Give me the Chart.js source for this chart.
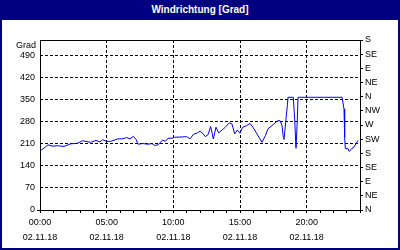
<!DOCTYPE html>
<html lang="de">
<head>
    <meta charset="UTF-8">
    <title>Windrichtung [Grad]</title>
    <script src="https://cdn.jsdelivr.net/npm/chart.js@4"></script>
    <style>
        body {
            margin: 0;
            padding: 0;
            background: #fff;
        }
        .frame {
            position: absolute;
            left: 0;
            top: 0;
            width: 400px;
            height: 250px;
            box-sizing: border-box;
            border: 2px solid #000080;
            background: #fff;
        }
        .title {
            position: absolute;
            left: 0;
            top: 0;
            width: 400px;
            height: 20px;
            background: #000080;
            color: #fff;
            font: bold 10px "Liberation Sans", Arial, sans-serif;
            line-height: 19px;
            text-align: center;
        }
        #windChart {
            position: absolute;
            left: 0;
            top: 0;
        }
    </style>
</head>
<body>
    <div class="frame"></div>
    <div class="title">Windrichtung [Grad]</div>
    <canvas id="windChart" width="400" height="250"></canvas>

    <script>
        // hours since 00:00 on 02.11.18
        const hours = [
            0, 0.4, 0.6, 0.9, 1.35, 1.8, 2.3, 2.8, 3.2, 3.8, 4.2, 4.5, 4.7, 5.0, 5.3, 5.85,
            6.15, 6.5, 6.75, 7.0, 7.2, 7.35, 7.7, 8.1, 8.4, 8.6, 8.85, 9.2, 9.4, 9.6, 9.9,
            10.1, 10.65, 11.0, 11.25, 11.5, 11.8, 12.0, 12.2, 12.4, 12.6, 12.8, 13.0, 13.2,
            13.4, 13.9, 14.2, 14.4, 14.6, 14.8, 15.0, 15.2, 15.5, 15.75, 16.0, 16.65, 16.9,
            17.1, 17.4, 17.8, 18.0, 18.15, 18.25, 18.3, 18.45, 18.55, 18.6, 19.0, 19.1, 19.2,
            19.3, 19.35, 22.65, 22.8, 22.85, 22.9, 23.1, 23.2, 23.4, 23.55, 23.85
        ];
        // wind direction in degrees
        const direction = [
            187, 200, 207, 203, 204, 202, 210, 212, 220, 215, 221, 216, 223, 218, 218, 226,
            226, 230, 226, 234, 224, 209, 211, 209, 211, 205, 207, 222, 218, 228, 228,
            231, 232, 233, 226, 240, 245, 250, 244, 233, 239, 265, 226, 263,
            245, 263, 277, 273, 242, 254, 244, 263, 268, 275, 261, 215, 236,
            258, 268, 283, 284, 268, 231, 224, 289, 331, 358, 358, 289, 196,
            289, 358, 358, 321, 231, 195, 195, 186, 196, 200, 221
        ];

        const leftTicks = [0, 70, 140, 210, 280, 350, 420, 490];
        const compassTicks = [0, 45, 90, 135, 180, 225, 270, 315, 360, 405, 450, 495, 540];
        const compassLabels = ['N', 'NE', 'E', 'SE', 'S', 'SW', 'W', 'NW', 'N', 'NE', 'E', 'SE', 'S'];
        const hourTicks = [0, 1, 2, 3, 4, 5, 6, 7, 8, 9, 10, 11, 12, 13, 14, 15, 16, 17, 18, 19, 20, 21, 22, 23, 24];
        const timeLabels = {0: '00:00', 5: '05:00', 10: '10:00', 15: '15:00', 20: '20:00'};
        const dateLabel = '02.11.18';

        const FONT = { family: '"Liberation Sans", Arial, sans-serif', size: 9 };
        const DASH = [3, 2];

        // frame around the plot area and the unit label
        const framePlugin = {
            id: 'framePlugin',
            afterDraw(chart) {
                const { ctx, chartArea: a } = chart;
                ctx.save();
                ctx.strokeStyle = '#000';
                ctx.lineWidth = 1;
                ctx.setLineDash([]);
                ctx.strokeRect(a.left + 0.5, a.top + 0.5, a.right - a.left, a.bottom - a.top);
                ctx.fillStyle = '#000';
                ctx.font = '9px "Liberation Sans", Arial, sans-serif';
                ctx.textAlign = 'right';
                ctx.textBaseline = 'middle';
                ctx.fillText('Grad', 36, 46);
                ctx.restore();
            }
        };

        const ctx = document.getElementById('windChart').getContext('2d');
        const windChart = new Chart(ctx, {
            type: 'line',
            data: {
                datasets: [{
                    data: hours.map((h, i) => ({ x: h, y: direction[i] })),
                    borderColor: '#0000ff',
                    borderWidth: 1,
                    pointRadius: 0,
                    tension: 0,
                    fill: false
                }]
            },
            options: {
                responsive: false,
                animation: false,
                layout: { padding: { top: 40, left: 2, right: 2, bottom: 2 } },
                plugins: {
                    legend: { display: false },
                    tooltip: { enabled: false },
                    title: { display: false }
                },
                scales: {
                    x: {
                        type: 'linear',
                        min: 0,
                        max: 24,
                        afterBuildTicks: s => { s.ticks = hourTicks.map(v => ({ value: v })); },
                        afterFit: s => { s.height = 38; },
                        grid: {
                            color: c => (c.tick && c.tick.value % 5 === 0 && c.tick.value > 0 && c.tick.value < 24) ? '#000' : 'rgba(0,0,0,0)',
                            tickColor: '#000',
                            tickLength: 3,
                            lineWidth: 1
                        },
                        border: { display: false, dash: DASH },
                        ticks: {
                            autoSkip: false,
                            maxRotation: 0,
                            color: '#000',
                            font: { ...FONT, lineHeight: 1.65 },
                            padding: 2,
                            callback: v => timeLabels[v] !== undefined ? [timeLabels[v], dateLabel] : ''
                        }
                    },
                    y: {
                        position: 'left',
                        min: 0,
                        max: 540,
                        afterBuildTicks: s => { s.ticks = leftTicks.map(v => ({ value: v })); },
                        afterFit: s => { s.width = 38; },
                        grid: {
                            color: c => (c.tick && c.tick.value > 0) ? '#000' : 'rgba(0,0,0,0)',
                            tickColor: c => (c.tick && c.tick.value === 0) ? '#000' : 'rgba(0,0,0,0)',
                            tickLength: 3,
                            lineWidth: 1
                        },
                        border: { display: false, dash: DASH },
                        ticks: {
                            color: '#000',
                            font: FONT,
                            padding: 2
                        }
                    },
                    compass: {
                        position: 'right',
                        min: 0,
                        max: 540,
                        afterBuildTicks: s => { s.ticks = compassTicks.map(v => ({ value: v })); },
                        afterFit: s => { s.width = 38; },
                        grid: {
                            drawOnChartArea: false,
                            color: '#000',
                            tickColor: '#000',
                            tickLength: 3
                        },
                        border: { display: false },
                        ticks: {
                            color: '#000',
                            font: FONT,
                            padding: 2,
                            callback: v => compassLabels[compassTicks.indexOf(v)]
                        }
                    }
                }
            },
            plugins: [framePlugin]
        });
    </script>
</body>
</html>
